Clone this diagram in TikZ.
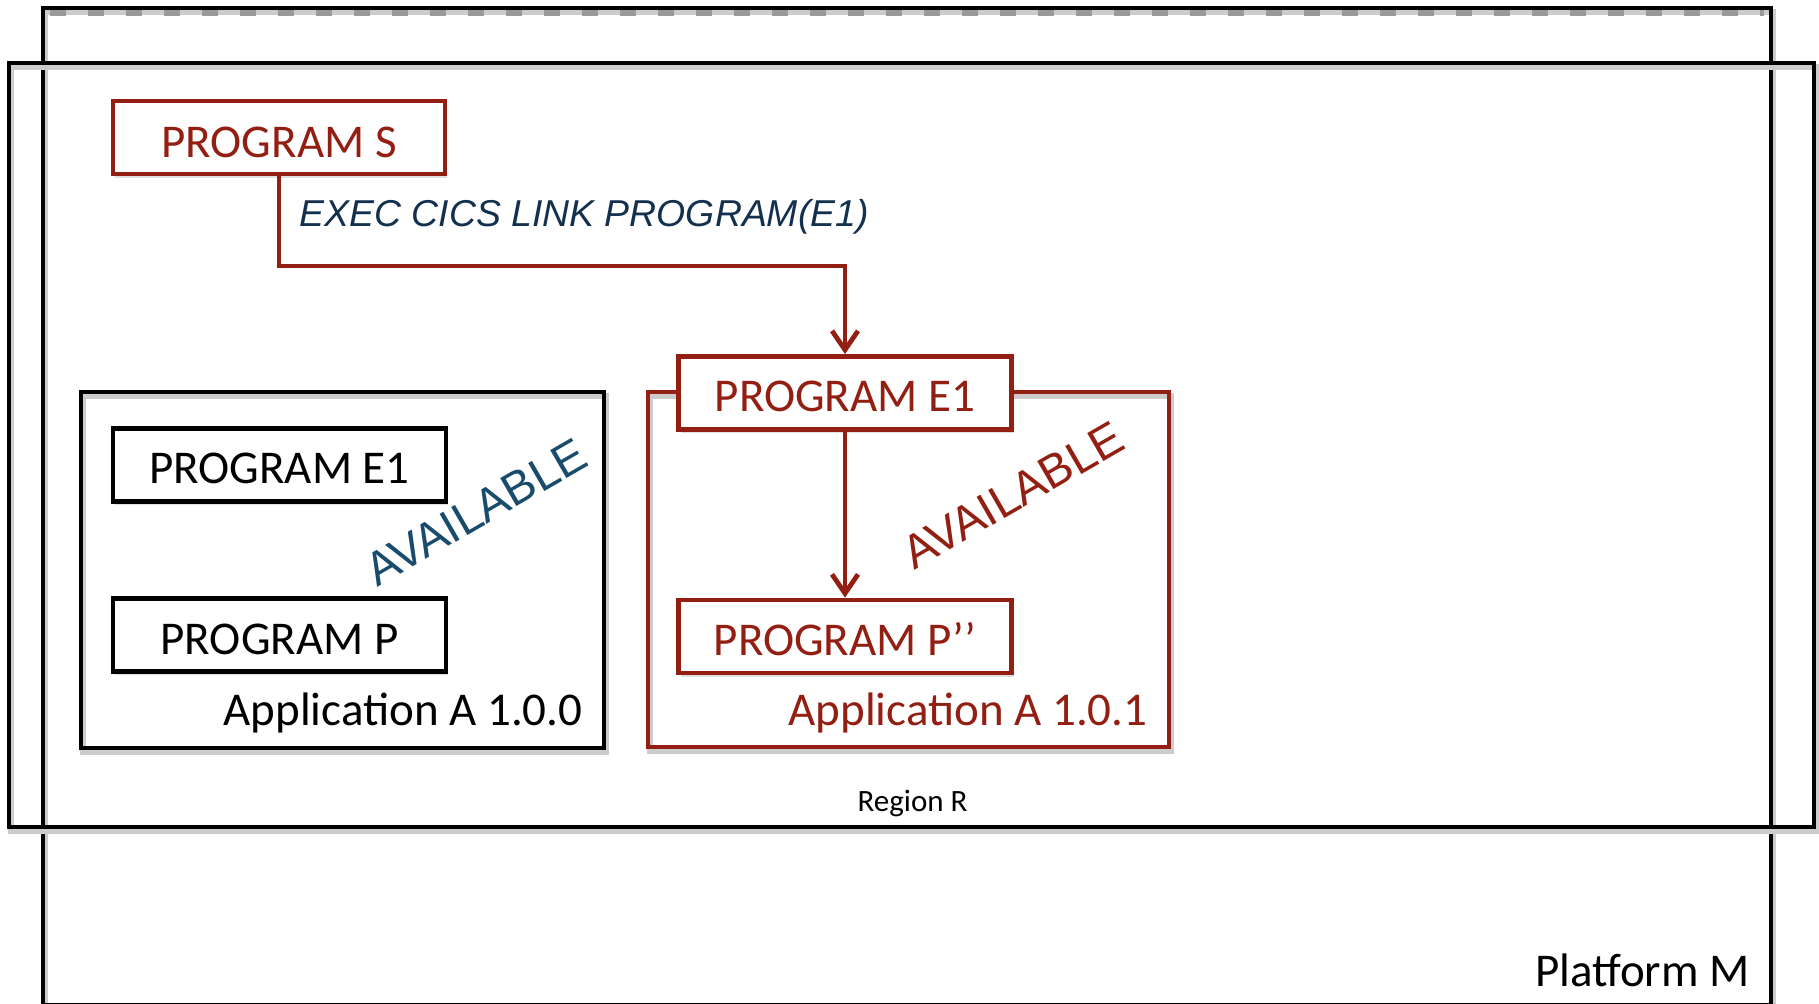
\documentclass[tikz,border=0pt]{standalone}
\usepackage{fontspec}
\setmainfont{Carlito}
\newfontfamily\arialf{Liberation Sans}
\usetikzlibrary{arrows.meta,shadows,calc}
\definecolor{dred}{HTML}{931E12}
\definecolor{navy}{HTML}{13304F}
\definecolor{avblue}{HTML}{184B6C}
\begin{document}
\begin{tikzpicture}[x=0.5pt,y=-0.5pt,
  frame/.style={draw=black,line width=2.4pt},
  shadowline/.style={draw=black!20,line width=3pt,transform canvas={xshift=1pt,yshift=-1.8pt}},
  box/.style={line width=2.4pt,fill=white,minimum width=166.5pt,minimum height=36.5pt,
    inner sep=0pt,text height=19pt,text depth=0pt,font=\fontsize{23.5}{28}\selectfont,
    drop shadow={shadow xshift=1pt,shadow yshift=-1.8pt,opacity=.25}},
  redbox/.style={box,draw=dred,text=dred},
  blkbox/.style={box,draw=black,text=black},
  conn/.style={draw=dred,line width=2.4pt,-{Straight Barb[length=9.5pt,width=13pt]}},
  bigtext/.style={font=\fontsize{23.5}{28}\selectfont},
  avail/.style={rotate=30,font=\arialf\fontsize{23.5}{28}\selectfont,inner sep=0pt}
]
\useasboundingbox (0,0) rectangle (1819,1004);
\fill[white] (0,0) rectangle (1819,1004);

% Platform M
\draw[shadowline] (43,8) rectangle (1771,1005);
\draw[black!40,line width=2.6pt,dash pattern=on 8pt off 11pt] (50,13) -- (1764,13);
\draw[frame] (43,8) rectangle (1771,1005);

% Region R
\draw[shadowline] (9,63) rectangle (1814,827);
\draw[frame] (9,63) rectangle (1814,827);

% Applications
\draw[shadowline] (81,392) rectangle (604,748);
\draw[frame] (81,392) rectangle (604,748);
\draw[shadowline] (648,392) rectangle (1169,747);
\draw[frame,draw=dred] (648,392) rectangle (1169,747);

% Program boxes
\node[redbox,text height=20.5pt,minimum width=166pt] (S) at (279,137.5) {PROGRAM S};
\node[redbox] (E1r) at (845,393) {PROGRAM E1};
\node[redbox] (Pr) at (845,636.5) {PROGRAM P’’};
\node[blkbox] (E1b) at (279.5,465) {PROGRAM E1};
\node[blkbox] (Pb) at (279.5,635) {PROGRAM P};

% Connectors
\coordinate (bend) at (845,266);
\draw[conn] (S.south) |- (bend) -- (E1r.north);
\draw[conn] (E1r.south) -- (Pr.north);

% Labels
\node[anchor=base west,text=navy,inner sep=0pt,font=\arialf\itshape\fontsize{18.7}{23}\selectfont] (exec) at (299,227) {EXEC CICS LINK PROGRAM(E1)};
\node[anchor=base east,inner sep=0pt,bigtext] (appL) at (583,725) {Application A 1.0.0};
\node[anchor=base east,inner sep=0pt,bigtext,text=dred] (appR) at (1148,725) {Application A 1.0.1};
\node[avail,text=avblue] (avL) at (476,512) {AVAILABLE};
\node[avail,text=dred] (avR) at (1013,495) {AVAILABLE};
\node[anchor=base,inner sep=0pt,font=\fontsize{15.5}{18}\selectfont] (reg) at (912.5,811) {Region R};
\node[anchor=base east,inner sep=0pt,bigtext] (plat) at (1750,986) {Platform M};
\end{tikzpicture}
\end{document}
